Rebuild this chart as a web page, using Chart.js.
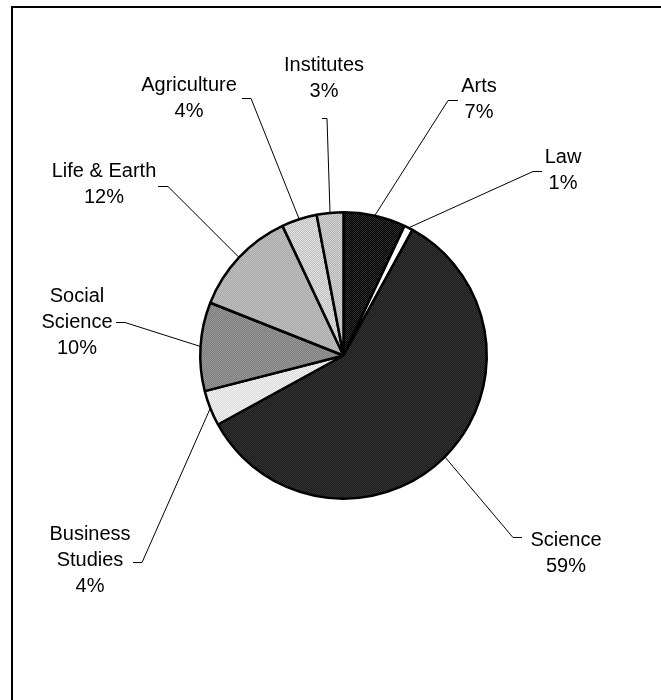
<!DOCTYPE html>
<html>
<head>
<meta charset="utf-8">
<script src="https://cdn.jsdelivr.net/npm/chart.js@4"></script>
<style>
  html, body { margin: 0; padding: 0; background: #fff; }
  #wrap { position: relative; width: 661px; height: 700px; }
</style>
</head>
<body>
<div id="wrap"><canvas id="chart" width="661" height="700"></canvas></div>
<script>
// Share of enrolment by faculty (percent)
const categories = ['Arts', 'Law', 'Science', 'Business Studies', 'Social Science', 'Life & Earth', 'Agriculture', 'Institutes'];
const shares = [7, 1, 59, 4, 10, 12, 4, 3];
const nameLines = [['Arts'], ['Law'], ['Science'], ['Business', 'Studies'], ['Social', 'Science'], ['Life & Earth'], ['Agriculture'], ['Institutes']];

// label placement: text centre x, first baseline y
const labelPos = [[479, 92], [563, 163], [566, 546], [90, 540], [77, 302], [104, 177], [189, 91], [324, 71]];
// leader line: label end -> elbow, then to the slice edge
const leaderElbow = [[458, 100, 448, 100], [542, 171, 533, 171], [522, 537, 513, 537], [133, 562, 142, 562],
                     [116, 322, 125, 322], [158, 186, 168, 186], [242, 98, 251, 98], [322, 118, 327, 118]];

// dithered greys, two tones per slice
const tones = [['#000000', '#2e2e2e'], ['#ffffff', '#ffffff'], ['#1a1a1a', '#363636'], ['#d8d8d8', '#f4f4f4'],
               ['#7a7a7a', '#9a9a9a'], ['#a6a6a6', '#c2c2c2'], ['#bcbcbc', '#e4e4e4'], ['#b0b0b0', '#d6d6d6']];

function makePattern(a, b) {
    const tile = document.createElement('canvas');
    tile.width = 2;
    tile.height = 2;
    const t = tile.getContext('2d');
    t.fillStyle = a;
    t.fillRect(0, 0, 2, 2);
    t.fillStyle = b;
    t.fillRect(0, 0, 1, 1);
    t.fillRect(1, 1, 1, 1);
    return t.createPattern(tile, 'repeat');
}

const FONT = '20px "Liberation Sans", Arial, sans-serif';

const frameAndLabels = {
    id: 'frameAndLabels',
    beforeDraw(chart) {
        const ctx = chart.ctx;
        ctx.save();
        ctx.strokeStyle = '#000';
        ctx.lineWidth = 2;
        ctx.strokeRect(12, 7, 720, 760);
        ctx.restore();
    },
    afterDraw(chart) {
        const ctx = chart.ctx;
        const arcs = chart.getDatasetMeta(0).data;
        ctx.save();
        ctx.font = FONT;
        ctx.fillStyle = '#000';
        ctx.textAlign = 'center';
        ctx.textBaseline = 'alphabetic';
        ctx.strokeStyle = '#000';
        ctx.lineWidth = 1;
        arcs.forEach((arc, i) => {
            const mid = (arc.startAngle + arc.endAngle) / 2;
            const ex = arc.x + Math.cos(mid) * arc.outerRadius;
            const ey = arc.y + Math.sin(mid) * arc.outerRadius;
            const [x1, y1, x2, y2] = leaderElbow[i];
            ctx.beginPath();
            ctx.moveTo(x1, y1 + 0.5);
            ctx.lineTo(x2, y2 + 0.5);
            ctx.lineTo(ex, ey);
            ctx.stroke();

            const lines = nameLines[i].concat([shares[i] + '%']);
            const [lx, ly] = labelPos[i];
            lines.forEach((txt, k) => ctx.fillText(txt, lx, ly + k * 26));
        });
        ctx.restore();
    }
};

const ctx = document.getElementById('chart').getContext('2d');
new Chart(ctx, {
    type: 'pie',
    data: {
        labels: categories,
        datasets: [{
            data: shares,
            backgroundColor: tones.map(t => makePattern(t[0], t[1])),
            borderColor: '#000',
            borderWidth: 2.5
        }]
    },
    options: {
        responsive: false,
        animation: false,
        layout: { padding: { left: 199, right: 173, top: 210, bottom: 199 } },
        plugins: {
            legend: { display: false },
            tooltip: { enabled: false }
        }
    },
    plugins: [frameAndLabels]
});
</script>
</body>
</html>
